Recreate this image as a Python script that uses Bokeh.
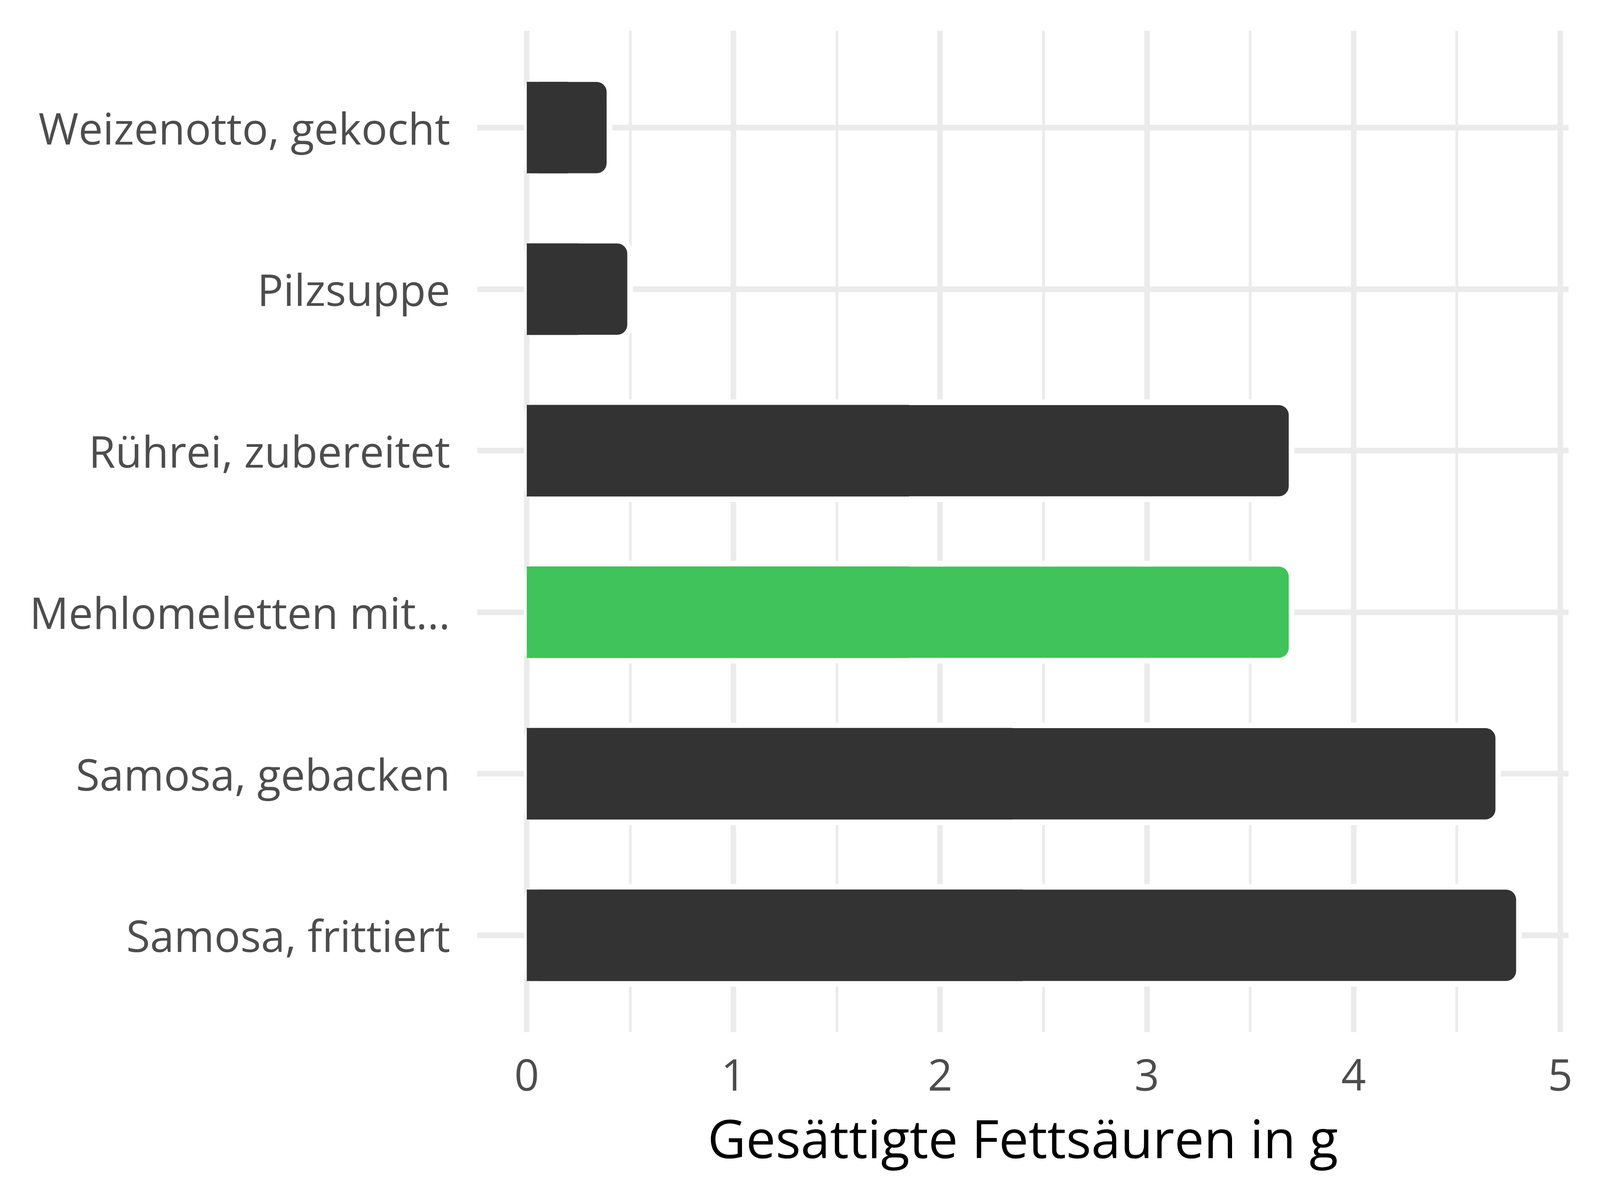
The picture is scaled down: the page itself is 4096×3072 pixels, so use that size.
from bokeh.plotting import figure
from bokeh.models import Range1d, FixedTicker, ColumnDataSource
from bokeh.embed import file_html
from bokeh.resources import INLINE

# ---- data ----
categories = ["Weizenotto, gekocht", "Pilzsuppe", "Rührei, zubereitet",
              "Mehlomeletten mit...", "Samosa, gebacken", "Samosa, frittiert"]
values = [0.4, 0.5, 3.7, 3.7, 4.7, 4.8]
bar_colors = ["#333333", "#333333", "#333333", "#3FC35A", "#333333", "#333333"]
x_ticks = [0, 1, 2, 3, 4, 5]
x_minor_ticks = [0.5, 1.5, 2.5, 3.5, 4.5]
x_title = "Gesättigte Fettsäuren in g"

ys = list(range(len(categories)))
src = ColumnDataSource(dict(
    y=ys,
    value=values,
    half=[v / 2 for v in values],
    color=bar_colors,
))

pad = 0.05 * max(values)
p = figure(
    width=4080, height=3056,
    x_range=Range1d(-pad, max(values) + pad),
    y_range=Range1d(len(categories) - 1 + 0.6, -0.6),
    output_backend="svg", toolbar_location=None,
    min_border_left=1221, min_border_right=65,
    min_border_top=78, min_border_bottom=414,
)
p.outline_line_color = None
p.background_fill_color = "white"
p.border_fill_color = "white"

# bars: rounded, white outlined, with square-cornered left half
p.hbar(y="y", left=0, right="value", height=0.6, source=src,
       fill_color="color", line_color="white", line_width=14.5,
       border_radius=33)
p.hbar(y="y", left=0, right="half", height=0.567, source=src,
       fill_color="color", line_color=None)

grid_col = "#EBEBEB"
xt = FixedTicker(ticks=x_ticks, minor_ticks=x_minor_ticks)
p.xaxis.ticker = xt
p.xgrid.ticker = xt
p.xgrid.grid_line_color = grid_col
p.xgrid.grid_line_width = 14
p.xgrid.minor_grid_line_color = grid_col
p.xgrid.minor_grid_line_width = 7

p.yaxis.ticker = FixedTicker(ticks=ys)
p.ygrid.ticker = FixedTicker(ticks=ys)
p.ygrid.grid_line_color = grid_col
p.ygrid.grid_line_width = 14.5
p.yaxis.major_label_overrides = {i: c for i, c in zip(ys, categories)}

for ax in (p.xaxis[0], p.yaxis[0]):
    ax.axis_line_color = None
    ax.major_tick_line_color = None
    ax.minor_tick_line_color = None
    ax.major_label_text_font = "Open Sans"
    ax.major_label_text_font_size = "111px"
    ax.major_label_text_color = "#4D4D4D"

p.yaxis.major_label_standoff = 63
p.xaxis.major_label_standoff = 63

p.xaxis.axis_label = x_title
p.xaxis.axis_label_text_font = "Open Sans"
p.xaxis.axis_label_text_font_size = "135px"
p.xaxis.axis_label_text_font_style = "normal"
p.xaxis.axis_label_text_color = "#000000"
p.xaxis.axis_label_standoff = 26

open("out.html", "w").write(file_html(p, INLINE))
